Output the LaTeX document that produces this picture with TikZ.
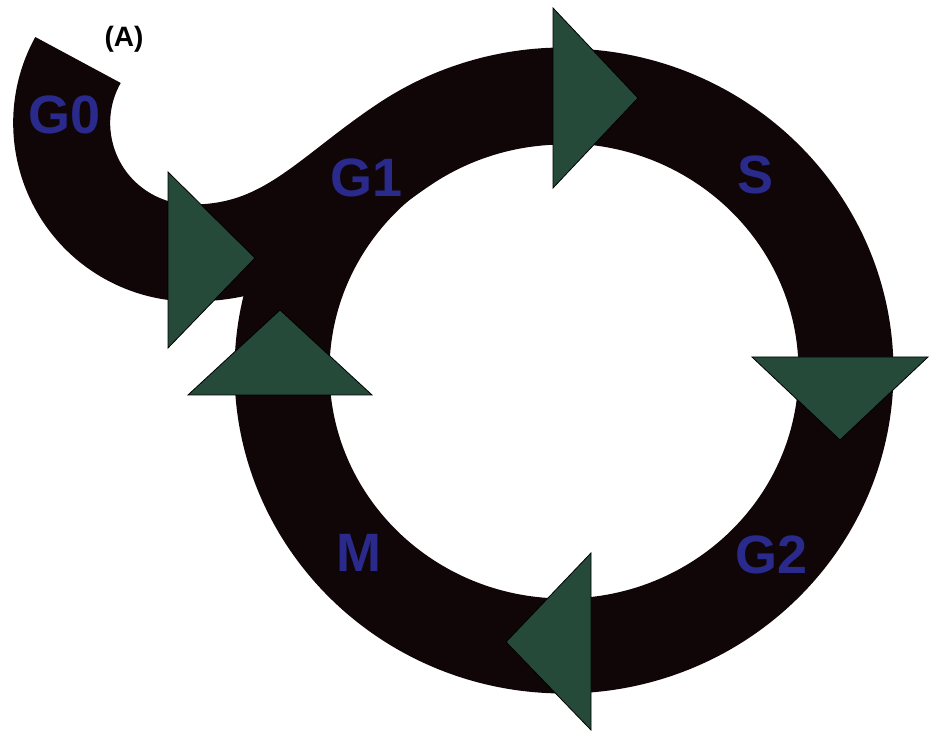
\documentclass[tikz,border=0pt]{standalone}
\usepackage{fontspec}
\setmainfont{Liberation Sans}
\usepackage{tikz}
\usetikzlibrary{calc}
\definecolor{bandblack}{RGB}{16,6,8}
\definecolor{arrowgreen}{RGB}{38,74,58}
\definecolor{phaseblue}{RGB}{42,42,140}

\begin{document}
\begin{tikzpicture}[x=1pt,y=1pt,
  band/.style={draw=bandblack,line width=95pt},
  tri/.style={fill=arrowgreen,draw=black,line width=0.8pt,line join=miter},
  lab/.style={text=phaseblue,font=\fontsize{54}{54}\selectfont\bfseries,inner sep=0pt}]
  \useasboundingbox[fill=white] (0,0) rectangle (930,733);
  % cycle ring and G0 entry
  \draw[band] (564,362) ellipse [x radius=282,y radius=275];
  \draw[band,line width=97pt] (78,673) arc[start angle=151,end angle=270,radius=130]
    coordinate (entry) to[out=0,in=214] ($(564,362)+(125:282 and 275)$)
    arc[start angle=125,end angle=91,x radius=282,y radius=275];
  % direction arrows
  \draw[tri] (553,725) -- (553,545) -- (638,635) -- cycle;
  \draw[tri] (752,376) -- (928,376) -- (840,293) -- cycle;
  \draw[tri] (591,180) -- (591,3) -- (506,91) -- cycle;
  \draw[tri] (168,561) -- (168,385) -- (255,475) -- cycle;
  \draw[tri] (188,338) -- (372,338) -- (280,423) -- cycle;
  % phase labels
  \foreach \x/\y/\n/\t in {65/618/g0/G0,367/555/g1/G1,756/558/s/S,772/178/g2/G2,359/180/m/M}{
    \node[lab] (\n) at (\x,\y) {\t};
  }
  \node[font=\fontsize{28}{28}\selectfont\bfseries,inner sep=0pt] (panel) at (124,694) {(A)};
\end{tikzpicture}
\end{document}
